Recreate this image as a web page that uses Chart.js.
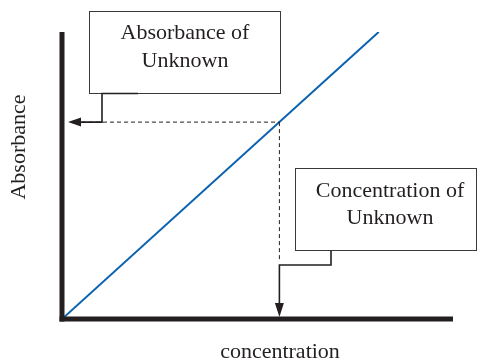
<!DOCTYPE html>
<html>
<head>
<meta charset="utf-8">
<script src="https://cdn.jsdelivr.net/npm/chart.js@4/dist/chart.umd.min.js"></script>
<style>
  html, body { margin: 0; padding: 0; background: #fff; }
  #wrap { width: 477px; height: 363px; }
</style>
</head>
<body>
<div id="wrap"><canvas id="calib"></canvas></div>
<script>
// calibration line (arbitrary units)
const lineX = [0, 8.1];
const lineY = [0, 10];
// the unknown sample
const unknownX = 5.56;
const unknownY = 6.86;
// texts
const xTitle = 'concentration';
const yTitle = 'Absorbance';
const absLabel = ['Absorbance of', 'Unknown'];
const concLabel = ['Concentration of', 'Unknown'];

const ink = '#231f20';
const serif = '"Liberation Serif", "Times New Roman", serif';

function arrowHead(ctx, x, y, dir) {
  // dir: 'left' or 'down'
  ctx.beginPath();
  if (dir === 'left') {
    ctx.moveTo(x, y);
    ctx.lineTo(x + 13, y - 4.5);
    ctx.lineTo(x + 13, y + 4.5);
  } else {
    ctx.moveTo(x, y);
    ctx.lineTo(x - 4.5, y - 14);
    ctx.lineTo(x + 4.5, y - 14);
  }
  ctx.closePath();
  ctx.fill();
}

const drawing = {
  id: 'drawing',
  afterDatasetsDraw(chart) {
    const ctx = chart.ctx;
    const a = chart.chartArea;
    const xs = chart.scales.x, ys = chart.scales.y;
    const ux = xs.getPixelForValue(unknownX);
    const uy = ys.getPixelForValue(unknownY);
    ctx.save();
    ctx.strokeStyle = ink;
    ctx.fillStyle = ink;

    // dashed guide lines
    ctx.lineWidth = 1;
    ctx.setLineDash([4, 3]);
    ctx.beginPath();
    ctx.moveTo(a.left + 20, uy);
    ctx.lineTo(ux, uy);
    ctx.moveTo(ux, uy);
    ctx.lineTo(ux, 262);
    ctx.stroke();
    ctx.setLineDash([]);

    // axes
    ctx.fillRect(a.left - 2.5, a.top, 5, a.bottom - a.top + 2.5);
    ctx.fillRect(a.left - 2.5, a.bottom - 2.5, a.right - a.left + 2.5, 5);

    // boxes
    ctx.lineWidth = 1;
    ctx.strokeStyle = '#3a3a3a';
    ctx.strokeRect(89.5, 11.5, 191, 82);
    ctx.strokeRect(295.5, 168.5, 181, 82);

    // leader: absorbance
    ctx.strokeStyle = ink;
    ctx.lineWidth = 1.6;
    ctx.beginPath();
    ctx.moveTo(138, 93.5);
    ctx.lineTo(102, 93.5);
    ctx.lineTo(102, uy);
    ctx.lineTo(a.left + 18, uy);
    ctx.stroke();
    arrowHead(ctx, a.left + 6, uy, 'left');

    // leader: concentration
    ctx.beginPath();
    ctx.moveTo(331, 250.5);
    ctx.lineTo(331, 265);
    ctx.lineTo(ux, 265);
    ctx.lineTo(ux, a.bottom - 12);
    ctx.stroke();
    arrowHead(ctx, ux, a.bottom - 2, 'down');

    // texts
    ctx.fillStyle = ink;
    ctx.font = '22px ' + serif;
    ctx.textAlign = 'center';
    ctx.textBaseline = 'alphabetic';
    ctx.fillText(absLabel[0], 185, 39);
    ctx.fillText(absLabel[1], 185, 67);
    ctx.fillText(concLabel[0], 390, 197);
    ctx.fillText(concLabel[1], 390, 224);
    ctx.fillText(xTitle, 280, 358);
    ctx.save();
    ctx.translate(25, 147);
    ctx.rotate(-Math.PI / 2);
    ctx.fillText(yTitle, 0, 0);
    ctx.restore();

    ctx.restore();
  }
};

new Chart(document.getElementById('calib'), {
  type: 'scatter',
  data: {
    datasets: [{
      data: lineX.map((x, i) => ({ x: x, y: lineY[i] })),
      showLine: true,
      borderColor: '#0a62b0',
      borderWidth: 2,
      pointRadius: 0,
      fill: false
    }]
  },
  options: {
    responsive: true,
    maintainAspectRatio: false,
    animation: false,
    layout: { padding: { left: 62, top: 32, right: 24, bottom: 44 } },
    plugins: { legend: { display: false }, tooltip: { enabled: false } },
    scales: {
      x: { type: 'linear', min: 0, max: 10, display: false },
      y: { type: 'linear', min: 0, max: 10, display: false }
    }
  },
  plugins: [drawing]
});
</script>
</body>
</html>
